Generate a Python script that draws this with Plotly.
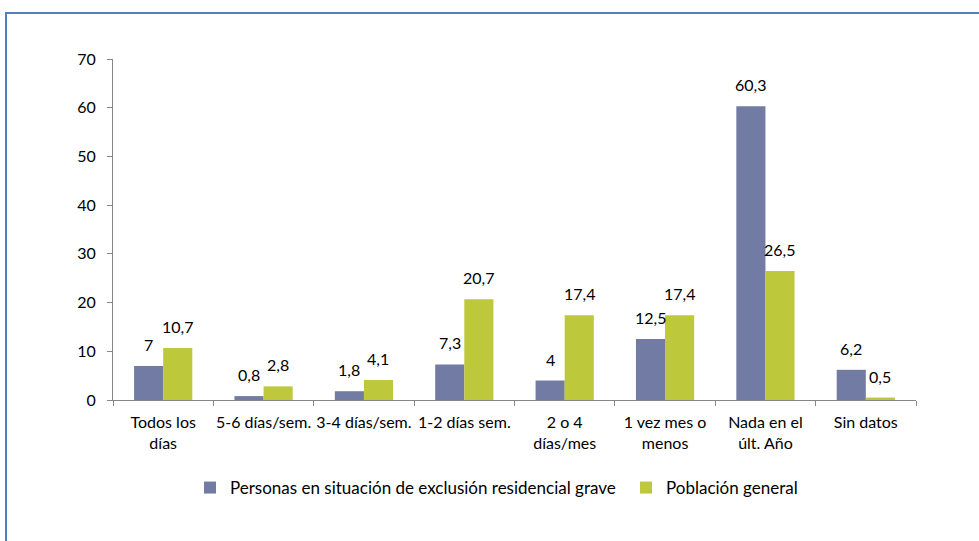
import plotly.graph_objects as go

categories = ["Todos los<br>días", "5-6 días/sem.", "3-4 días/sem.", "1-2 días sem.",
              "2 o 4<br>días/mes", "1 vez mes o<br>menos", "Nada en el<br>últ. Año", "Sin datos"]
exclusion = [7, 0.8, 1.8, 7.3, 4, 12.5, 60.3, 6.2]
general = [10.7, 2.8, 4.1, 20.7, 17.4, 17.4, 26.5, 0.5]
y_ticks = [0, 10, 20, 30, 40, 50, 60, 70]

def fmt(v):
    s = ("%g" % v)
    return s.replace(".", ",")

FONT = "Lato, Carlito, Calibri, sans-serif"
FS = 16
BARGAP = 0.42

fig = go.Figure()
fig.add_trace(go.Bar(
    x=categories, y=exclusion, name="Personas en situación de exclusión residencial grave",
    marker=dict(color="#727BA3", line=dict(width=0)), legend="legend",
))
fig.add_trace(go.Bar(
    x=categories, y=general, name="Población general",
    marker=dict(color="#BDC83A", line=dict(width=0)), legend="legend2",
))

L, R, T, B = 113, 63, 59, 141
W, H = 979, 541
pw, ph = W - L - R, H - T - B

def px(x):
    return (x - L) / pw

def py(y):
    return (H - B - y) / ph

# data labels via annotations (offset half a bar width from category centre)
bar_w = pw / len(categories) * (1 - BARGAP) / 2
annotations = []
for series, sign in ((exclusion, -1), (general, 1)):
    for c, v in zip(categories, series):
        annotations.append(dict(
            x=c, y=v, xref="x", yref="y", text=fmt(v), showarrow=False,
            xanchor="center", yanchor="bottom", xshift=sign * bar_w / 2, yshift=10,
            font=dict(size=FS, family=FONT, color="#000000"),
        ))

legend_common = dict(orientation="h", y=py(488), yanchor="middle", xanchor="left",
                     font=dict(size=17, family=FONT), itemwidth=30,
                     bgcolor="rgba(0,0,0,0)")

fig.update_layout(
    width=W, height=H,
    margin=dict(l=L, r=R, t=T, b=B, pad=0),
    paper_bgcolor="white", plot_bgcolor="white",
    barmode="group", bargap=BARGAP, bargroupgap=0,
    font=dict(family=FONT, size=FS, color="#000000"),
    showlegend=True,
    legend=dict(x=px(190), **legend_common),
    legend2=dict(x=px(626), **legend_common),
    xaxis=dict(type="category", tickson="boundaries", ticks="outside", ticklen=5,
               tickcolor="#868686", showline=True, linecolor="#868686", linewidth=1,
               showgrid=False, tickangle=0, ticklabelstandoff=8,
               tickfont=dict(size=FS, family=FONT)),
    yaxis=dict(range=[0, 70], tickvals=y_ticks, ticks="outside", ticklen=5,
               tickcolor="#868686", showline=True, linecolor="#868686", linewidth=1,
               showgrid=False, zeroline=False, ticklabelstandoff=8,
               tickfont=dict(size=FS, family=FONT)),
    annotations=annotations,
    shapes=[
        dict(type="line", xref="paper", yref="paper", x0=px(5), x1=px(979), y0=py(13), y1=py(13),
             line=dict(color="#4F81BD", width=2)),
        dict(type="line", xref="paper", yref="paper", x0=px(6), x1=px(6), y0=py(13), y1=py(541),
             line=dict(color="#4F81BD", width=2)),
    ],
)

fig.write_html("out.html", config={"displayModeBar": False},
               post_script="document.body.style.margin='0px';document.body.style.overflow='hidden';")
